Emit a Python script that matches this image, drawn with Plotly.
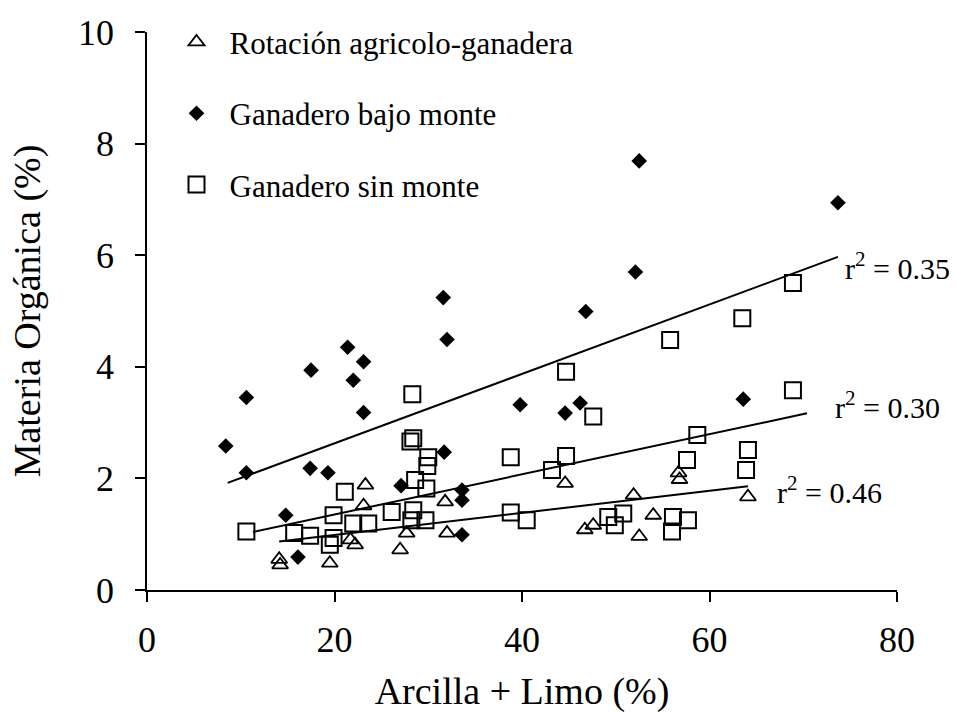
import plotly.graph_objects as go

# Arcilla + Limo (%) vs Materia Orgánica (%) by management system
rot_x = [14.1, 14.2, 19.5, 21.7, 22.2, 23.1, 23.3, 27.0, 27.7, 31.8, 32.0,
         44.6, 46.7, 47.6, 51.9, 52.5, 54.0, 56.7, 56.8, 64.1]
rot_y = [0.55, 0.45, 0.48, 0.90, 0.81, 1.51, 1.88, 0.72, 1.02, 1.58, 1.02,
         1.91, 1.08, 1.16, 1.70, 0.96, 1.34, 2.10, 1.98, 1.67]

bajo_x = [8.4, 10.6, 10.6, 14.8, 16.1, 17.4, 17.5, 19.3, 21.4, 22.0, 23.1,
          23.1, 27.1, 31.6, 32.0, 31.7, 33.6, 33.6, 33.6, 39.8, 44.6, 46.2,
          46.8, 52.1, 52.5, 63.6, 73.7]
bajo_y = [2.58, 3.45, 2.10, 1.34, 0.59, 2.18, 3.94, 2.10, 4.35, 3.76, 4.09,
          3.18, 1.87, 5.24, 4.49, 2.47, 1.79, 1.61, 0.99, 3.32, 3.17, 3.35,
          4.99, 5.70, 7.69, 3.42, 6.94]

sin_x = [10.6, 15.7, 17.4, 19.5, 19.9, 19.9, 21.1, 22.0, 23.6, 26.1, 28.2,
         28.4, 29.7, 29.8, 28.6, 28.1, 28.4, 28.3, 30.0, 29.9, 38.8, 38.8,
         40.5, 43.2, 44.7, 44.7, 47.6, 49.2, 49.9, 50.8, 56.0, 56.1, 57.7,
         55.8, 57.6, 58.7, 63.5, 63.9, 64.1, 68.9, 68.9]
sin_y = [1.05, 1.02, 0.97, 0.81, 0.93, 1.34, 1.76, 1.19, 1.19, 1.40, 1.25,
         1.43, 1.25, 1.82, 1.97, 2.66, 2.72, 3.51, 2.38, 2.22, 2.38, 1.39,
         1.25, 2.15, 2.40, 3.91, 3.11, 1.31, 1.16, 1.37, 1.05, 1.31, 1.25,
         4.48, 2.33, 2.78, 4.87, 2.15, 2.51, 3.58, 5.50]

# Linear fits: intercept, slope, x extent, r^2
fit_names = ["bajo", "sin", "rot"]
fit_intercept = [1.385, 0.633, 0.590]
fit_slope = [0.0622, 0.0360, 0.0198]
fit_xmin = [8.6, 11.3, 14.1]
fit_xmax = [73.7, 70.4, 64.1]
fit_r2 = ["0.35", "0.30", "0.46"]
label_x = [74.2, 73.2, 67.0]
label_y = [5.80, 3.32, 1.80]

FONT = "Liberation Serif"

fig = go.Figure()

fig.add_trace(go.Scatter(
    x=rot_x, y=rot_y, mode="markers", name="Rotación agricolo-ganadera",
    legendgroup="a",
    marker=dict(symbol="triangle-up-open", size=14, color="black",
                line=dict(width=1.8, color="black"))))
fig.add_trace(go.Scatter(
    x=bajo_x, y=bajo_y, mode="markers", name="Ganadero bajo monte",
    legendgroup="b",
    marker=dict(symbol="diamond", size=12, color="black",
                line=dict(width=0))))
fig.add_trace(go.Scatter(
    x=sin_x, y=sin_y, mode="markers", name="Ganadero sin monte",
    legendgroup="c",
    marker=dict(symbol="square-open", size=16, color="black",
                line=dict(width=2, color="black"))))

for b0, b1, x0, x1, r2, lx, ly in zip(fit_intercept, fit_slope, fit_xmin,
                                      fit_xmax, fit_r2, label_x, label_y):
    xs = [x0, x1]
    fig.add_trace(go.Scatter(
        x=xs, y=[b0 + b1 * v for v in xs], mode="lines", showlegend=False,
        line=dict(color="black", width=2), hoverinfo="skip"))
    fig.add_annotation(
        x=lx, y=ly, xref="x", yref="y", xanchor="left", yanchor="middle",
        text=f"r<sup>2</sup> = {r2}", showarrow=False,
        font=dict(family=FONT, size=30, color="black"))

fig.update_layout(
    width=957, height=713,
    margin=dict(l=147, r=60, t=32, b=123, autoexpand=False),
    paper_bgcolor="white", plot_bgcolor="white",
    font=dict(family=FONT, color="black"),
    legend=dict(
        x=0.022, y=1.03, xanchor="left", yanchor="top",
        font=dict(family=FONT, size=31, color="black"),
        bgcolor="rgba(0,0,0,0)", itemwidth=56, tracegroupgap=28,
        traceorder="grouped"),
    xaxis=dict(
        range=[0, 80], tickvals=[0, 20, 40, 60, 80], automargin=False,
        showgrid=False, zeroline=False, showline=True,
        linecolor="black", linewidth=1.5,
        ticks="outside", ticklen=10, tickwidth=1.5, tickcolor="black",
        ticklabelstandoff=7,
        tickfont=dict(family=FONT, size=36, color="black"),
        title=dict(text="Arcilla + Limo (%)", standoff=25,
                   font=dict(family=FONT, size=38, color="black"))),
    yaxis=dict(
        range=[0, 10], tickvals=[0, 2, 4, 6, 8, 10], automargin=False,
        showgrid=False, zeroline=False, showline=True,
        linecolor="black", linewidth=1.5,
        ticks="outside", ticklen=10, tickwidth=1.5, tickcolor="black",
        ticklabelstandoff=14,
        tickfont=dict(family=FONT, size=36, color="black"),
        title=dict(text="Materia Orgánica (%)", standoff=26,
                   font=dict(family=FONT, size=38, color="black"))),
)

fig.write_html("out.html")
